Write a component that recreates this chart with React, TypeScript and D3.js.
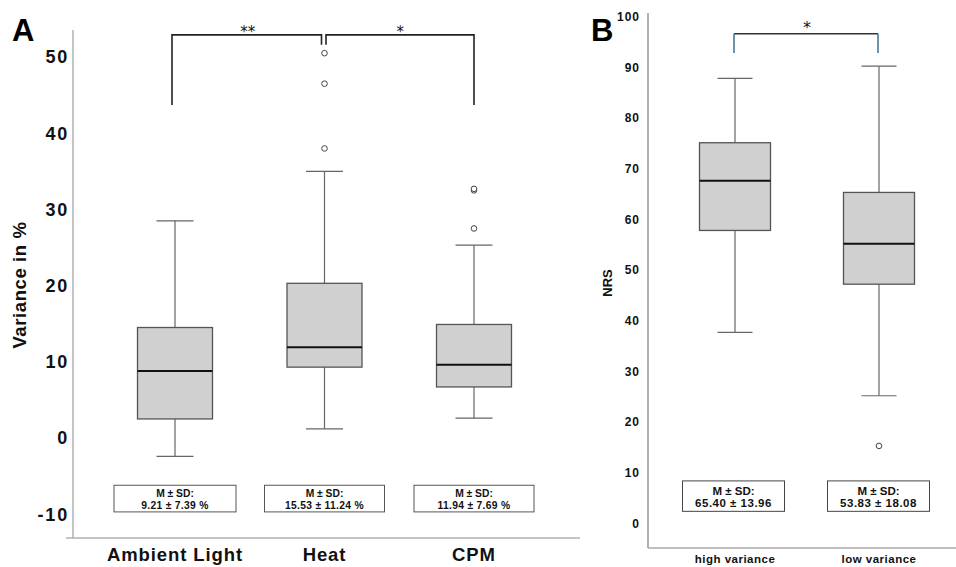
import React from "react";
import * as d3 from "d3";

// ---------- Panel A data ----------
const categoriesA = ["Ambient Light", "Heat", "CPM"];
const q1A = [2.5, 9.3, 6.7];
const medianA = [8.8, 11.9, 9.6];
const q3A = [14.5, 20.3, 14.9];
const whiskerLowA = [-2.4, 1.2, 2.6];
const whiskerHighA = [28.5, 35.0, 25.3];
const outliersA: number[][] = [[], [38.0, 46.5, 50.5], [27.5, 32.5, 32.7]];
const meanSdA = ["9.21 ± 7.39 %", "15.53 ± 11.24 %", "11.94 ± 7.69 %"];
const ticksA = [-10, 0, 10, 20, 30, 40, 50];

// ---------- Panel B data ----------
const categoriesB = ["high variance", "low variance"];
const q1B = [57.8, 47.2];
const medianB = [67.6, 55.2];
const q3B = [75.1, 65.3];
const whiskerLowB = [37.7, 25.2];
const whiskerHighB = [87.8, 90.2];
const outliersB: number[][] = [[], [15.3]];
const meanSdB = ["65.40 ± 13.96", "53.83 ± 18.08"];
const ticksB = [0, 10, 20, 30, 40, 50, 60, 70, 80, 90, 100];

const FONT = "'Liberation Sans', Arial, Helvetica, sans-serif";
const STAR_FONT = "'DejaVu Sans', sans-serif";

type BoxProps = {
  x: number;
  y: (v: number) => number;
  w: number;
  capW: number;
  q1: number;
  med: number;
  q3: number;
  lo: number;
  hi: number;
  outs: number[];
};

function Box({ x, y, w, capW, q1, med, q3, lo, hi, outs }: BoxProps) {
  const wc = "#666";
  return (
    <g>
      <line x1={x} x2={x} y1={y(hi)} y2={y(q3)} stroke={wc} strokeWidth={1.2} />
      <line x1={x} x2={x} y1={y(q1)} y2={y(lo)} stroke={wc} strokeWidth={1.2} />
      <line x1={x - capW / 2} x2={x + capW / 2} y1={y(hi)} y2={y(hi)} stroke={wc} strokeWidth={1.2} />
      <line x1={x - capW / 2} x2={x + capW / 2} y1={y(lo)} y2={y(lo)} stroke={wc} strokeWidth={1.2} />
      <rect x={x - w / 2} y={y(q3)} width={w} height={y(q1) - y(q3)} fill="#d0d0d0" stroke="#555" strokeWidth={1.3} />
      <line x1={x - w / 2} x2={x + w / 2} y1={y(med)} y2={y(med)} stroke="#111" strokeWidth={2} />
      {outs.map((o, i) => (
        <circle key={i} cx={x} cy={y(o)} r={2.8} fill="white" stroke="#444" strokeWidth={1} />
      ))}
    </g>
  );
}

export default function App() {
  // Panel A scales
  const yA = d3.scaleLinear().domain([-10, 50]).range([514.2, 57]);
  const xA = d3.scalePoint<string>().domain(categoriesA).range([175, 474]);
  // Panel B scales
  const yB = d3.scaleLinear().domain([0, 100]).range([523.5, 16.5]);
  const xB = d3.scalePoint<string>().domain(categoriesB).range([735, 879]);

  const bx = (c: string) => xA(c) as number;
  const bxB = (c: string) => xB(c) as number;

  return (
    <svg
      width={956}
      height={567}
      style={{ position: "absolute", left: 0, top: 0, background: "white" }}
      fontFamily={FONT}
    >
      <rect width={956} height={567} fill="white" />

      {/* ================= Panel A ================= */}
      <text x={12} y={41} fontSize={31} fontWeight="bold" fill="#000">A</text>

      {/* axes */}
      <line x1={73} x2={73} y1={30} y2={538} stroke="#b0b0b0" strokeWidth={1.5} />
      <line x1={66} x2={580} y1={538} y2={538} stroke="#b0b0b0" strokeWidth={1.5} />

      {ticksA.map((t) => (
        <text
          key={t}
          x={69}
          y={yA(t)}
          dy="0.36em"
          textAnchor="end"
          fontSize={18}
          fontWeight="bold"
          letterSpacing={1.8}
          fill="#111"
        >
          {t}
        </text>
      ))}

      <text
        transform={`translate(26,${285}) rotate(-90)`}
        textAnchor="middle"
        fontSize={18.5}
        fontWeight="bold"
        letterSpacing={0.6}
        fill="#111"
      >
        Variance in %
      </text>

      {categoriesA.map((c) => (
        <text
          key={c}
          x={bx(c)}
          y={561}
          textAnchor="middle"
          fontSize={18.5}
          fontWeight="bold"
          letterSpacing={0.9}
          fill="#111"
        >
          {c}
        </text>
      ))}

      {categoriesA.map((c, i) => (
        <Box
          key={c}
          x={bx(c)}
          y={yA}
          w={75}
          capW={37}
          q1={q1A[i]}
          med={medianA[i]}
          q3={q3A[i]}
          lo={whiskerLowA[i]}
          hi={whiskerHighA[i]}
          outs={outliersA[i]}
        />
      ))}

      {/* M ± SD boxes A */}
      {categoriesA.map((c, i) => {
        const w = i === 0 ? 122 : 120;
        const x0 = bx(c) - w / 2;
        const yt = yA(-6.2);
        const yb = yA(-9.7);
        return (
          <g key={c}>
            <rect x={x0} y={yt} width={w} height={yb - yt} fill="white" stroke="#555" strokeWidth={1} />
            <text x={bx(c)} y={yt + 12} textAnchor="middle" fontSize={10.3} fontWeight="bold" fill="#111">
              M ± SD:
            </text>
            <text x={bx(c)} y={yt + 24} textAnchor="middle" fontSize={10.3} fontWeight="bold" letterSpacing={0.3} fill="#111">
              {meanSdA[i]}
            </text>
          </g>
        );
      })}

      {/* significance brackets A */}
      {(() => {
        const top = yA(52.9);
        const legL = yA(43.7);
        const legInner = yA(51.6);
        const xAmb = bx("Ambient Light") - 3;
        const xHeatL = bx("Heat") - 3;
        const xHeatR = bx("Heat") + 1.5;
        const xCpm = bx("CPM");
        return (
          <g stroke="#222" strokeWidth={1.6} fill="none">
            <path d={`M${xAmb},${legL}V${top}H${xHeatL}V${legInner}`} />
            <path d={`M${xHeatR},${legInner}V${top}H${xCpm}V${legL}`} />
          </g>
        );
      })()}
      <text x={(bx("Ambient Light") + bx("Heat")) / 2 - 2} y={37} textAnchor="middle" fontSize={15} fontFamily={STAR_FONT} fill="#111">
        **
      </text>
      <text x={(bx("Heat") + bx("CPM")) / 2 + 1} y={37} textAnchor="middle" fontSize={15} fontFamily={STAR_FONT} fill="#111">
        *
      </text>

      {/* ================= Panel B ================= */}
      <text x={591} y={41} fontSize={31} fontWeight="bold" fill="#000">B</text>

      <line x1={648} x2={648} y1={13} y2={548} stroke="#888" strokeWidth={1.3} />
      <line x1={648} x2={956} y1={548} y2={548} stroke="#aaa" strokeWidth={1.5} />

      {ticksB.map((t) => (
        <text
          key={t}
          x={640}
          y={yB(t)}
          dy="0.36em"
          textAnchor="end"
          fontSize={12}
          fontWeight="bold"
          letterSpacing={1}
          fill="#111"
        >
          {t}
        </text>
      ))}

      <text
        transform={`translate(612,${283}) rotate(-90)`}
        textAnchor="middle"
        fontSize={13}
        fontWeight="bold"
        fill="#111"
      >
        NRS
      </text>

      {categoriesB.map((c) => (
        <text
          key={c}
          x={bxB(c)}
          y={563}
          textAnchor="middle"
          fontSize={11.5}
          fontWeight="bold"
          letterSpacing={0.5}
          fill="#111"
        >
          {c}
        </text>
      ))}

      {categoriesB.map((c, i) => (
        <Box
          key={c}
          x={bxB(c)}
          y={yB}
          w={71}
          capW={35}
          q1={q1B[i]}
          med={medianB[i]}
          q3={q3B[i]}
          lo={whiskerLowB[i]}
          hi={whiskerHighB[i]}
          outs={outliersB[i]}
        />
      ))}

      {categoriesB.map((c, i) => {
        const w = 102;
        const x0 = bxB(c) - w / 2 + (i === 0 ? -1.5 : -0.5);
        const yt = yB(8.4);
        const yb = yB(2.4);
        return (
          <g key={c}>
            <rect x={x0} y={yt} width={w} height={yb - yt} fill="white" stroke="#444" strokeWidth={1} />
            <text x={x0 + w / 2} y={yt + 14} textAnchor="middle" fontSize={11.5} fontWeight="bold" fill="#111">
              M ± SD:
            </text>
            <text x={x0 + w / 2} y={yt + 26} textAnchor="middle" fontSize={11.5} fontWeight="bold" letterSpacing={0.5} fill="#111">
              {meanSdB[i]}
            </text>
          </g>
        );
      })}

      {(() => {
        const top = yB(96.6);
        const leg = yB(92.8);
        const x1 = bxB("high variance") - 1;
        const x2 = bxB("low variance") - 1;
        return (
          <g fill="none">
            <line x1={x1} x2={x2} y1={top} y2={top} stroke="#333" strokeWidth={1.6} />
            <line x1={x1} x2={x1} y1={top} y2={leg} stroke="#4a7896" strokeWidth={1.6} />
            <line x1={x2} x2={x2} y1={top} y2={leg} stroke="#4a7896" strokeWidth={1.6} />
          </g>
        );
      })()}
      <text x={(bxB("high variance") + bxB("low variance")) / 2} y={33} textAnchor="middle" fontSize={16} fontFamily={STAR_FONT} fill="#111">
        *
      </text>
    </svg>
  );
}
